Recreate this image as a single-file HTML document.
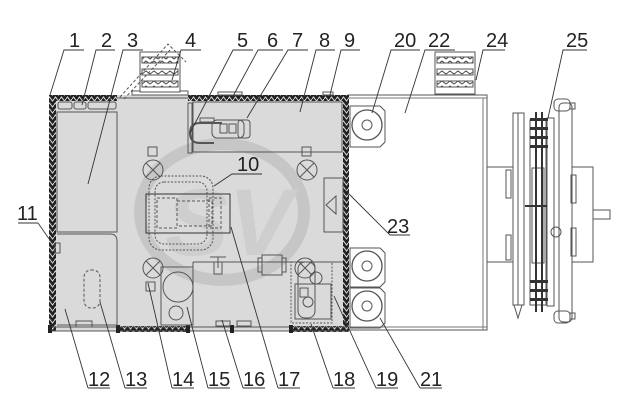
<!DOCTYPE html>
<html><head><meta charset="utf-8"><style>
html,body{margin:0;padding:0;background:#fff;}
svg{display:block;}
text{font-family:"Liberation Sans",sans-serif;font-size:20px;fill:#222;}
</style></head><body>
<svg width="630" height="420" viewBox="0 0 630 420" xmlns="http://www.w3.org/2000/svg">
<defs>
<pattern id="h" width="6" height="6" patternUnits="userSpaceOnUse">
<rect width="6" height="6" fill="#222"/>
<path d="M0 3 L1.5 1 L3 3 L4.5 5 L6 3" stroke="#ddd" stroke-width="1" fill="none"/>
</pattern>
<pattern id="vh" width="8" height="5" patternUnits="userSpaceOnUse">
<rect width="8" height="5" fill="#fff"/>
<path d="M0 2.5 L2 1 L4 2.5 L6 4 L8 2.5" stroke="#444" stroke-width="1" fill="none"/>
</pattern>
</defs>

<rect x="348" y="95" width="139" height="235" fill="#fff" stroke="#555" stroke-width="1"/>
<line x1="483" y1="98" x2="483" y2="330" stroke="#777"/>
<line x1="348" y1="98" x2="487" y2="98" stroke="#777"/>
<line x1="348" y1="327" x2="487" y2="327" stroke="#777"/>

<rect x="49" y="95" width="300" height="236" fill="#dadada"/>
<ellipse cx="222" cy="212" rx="82" ry="68" fill="none" stroke="#c6c6c6" stroke-width="12"/>
<text x="165" y="255" style="font-size:95px;font-style:italic;font-weight:bold;fill:#cecece">SV</text>

<rect x="49" y="95" width="68" height="6" fill="url(#h)"/>
<rect x="188" y="95" width="161" height="6" fill="url(#h)"/>
<line x1="117" y1="98" x2="188" y2="98" stroke="#555"/>
<rect x="49" y="95" width="7" height="236" fill="url(#h)"/>
<rect x="343" y="95" width="6" height="236" fill="url(#h)"/>
<rect x="117" y="326" width="72" height="6" fill="url(#h)"/>
<rect x="290" y="326" width="59" height="6" fill="url(#h)"/>
<line x1="49" y1="327" x2="349" y2="327" stroke="#555"/>
<line x1="49" y1="331" x2="349" y2="331" stroke="#555"/>
<rect x="116" y="325" width="4" height="8" fill="#222"/><rect x="186" y="325" width="4" height="8" fill="#222"/>
<rect x="230" y="325" width="4" height="8" fill="#222"/><rect x="289" y="325" width="4" height="8" fill="#222"/>
<rect x="48" y="325" width="4" height="8" fill="#222"/>

<g fill="none" stroke="#555" stroke-width="1">
<rect x="132" y="91" width="56" height="4"/>
<rect x="140" y="52" width="40" height="40" fill="#fff"/>
<rect x="142" y="57" width="36" height="6" fill="url(#vh)"/>
<rect x="142" y="69" width="36" height="6" fill="url(#vh)"/>
<rect x="142" y="81" width="36" height="6" fill="url(#vh)"/>
<path d="M120 97 L168 44 L186 62" stroke-dasharray="3,2"/>
<path d="M124 99 L170 50" stroke-dasharray="3,2"/>
<rect x="435" y="52" width="40" height="42" fill="#fff"/>
<rect x="437" y="57" width="36" height="6" fill="url(#vh)"/>
<rect x="437" y="69" width="36" height="6" fill="url(#vh)"/>
<rect x="437" y="81" width="36" height="6" fill="url(#vh)"/>
<rect x="218" y="92" width="24" height="3"/>
<rect x="323" y="92" width="10" height="3"/>

<rect x="58" y="102" width="14" height="7" rx="2"/><rect x="74" y="102" width="12" height="7" rx="2"/><rect x="88" y="102" width="28" height="7" rx="2"/>
<rect x="57" y="112" width="60" height="120"/>
<path d="M57 234 H110 Q117 234 117 241 V325 H57"/>
<rect x="84" y="270" width="16" height="38" rx="7" stroke-dasharray="3,2"/>
<rect x="76" y="321" width="16" height="6"/>
<rect x="55" y="243" width="5" height="10"/>

<rect x="193" y="102" width="149" height="50"/>
<rect x="188" y="103" width="4" height="50"/>
<path d="M222 123 H200 Q190 123 190 133 Q190 143 200 143 H214" stroke-width="2"/>
<rect x="212" y="120" width="32" height="18" rx="5"/><rect x="220" y="124" width="7" height="9"/><rect x="229" y="124" width="7" height="9"/>
<rect x="238" y="120" width="12" height="18" rx="3"/><rect x="200" y="118" width="14" height="4"/>

<circle cx="153" cy="170" r="10"/><path d="M146 163 L160 177 M160 163 L146 177"/>
<circle cx="307" cy="170" r="10"/><path d="M300 163 L314 177 M314 163 L300 177"/>
<circle cx="153" cy="268" r="10"/><path d="M146 261 L160 275 M160 261 L146 275"/>
<circle cx="305" cy="268" r="10"/><path d="M298 261 L312 275 M312 261 L298 275"/>
<rect x="148" y="147" width="9" height="9"/><rect x="302" y="147" width="9" height="9"/><rect x="146" y="282" width="9" height="9"/><rect x="300" y="288" width="8" height="9"/>

<rect x="149" y="176" width="64" height="74" rx="12" stroke-dasharray="2,1.5"/>
<rect x="155" y="182" width="52" height="62" rx="9" stroke-dasharray="2,1.5"/>
<rect x="146" y="194" width="84" height="39" stroke="#333"/>
<rect x="157" y="198" width="20" height="30" stroke-dasharray="3,2"/>
<rect x="177" y="201" width="35" height="25" stroke-dasharray="3,2"/>
<rect x="209" y="198" width="12" height="30" stroke-dasharray="3,2"/>

<rect x="324" y="178" width="19" height="54"/>
<path d="M326 205 L336 196 L336 214 Z"/>

<rect x="161" y="267" width="32" height="58"/>
<circle cx="178" cy="287" r="15"/><circle cx="176" cy="313" r="7"/>
<path d="M193 262 H343"/><path d="M193 262 V325"/>
<rect x="214" y="262" width="8" height="12"/><path d="M210 257 H226 M218 257 V268"/>
<rect x="262" y="255" width="20" height="20"/><rect x="258" y="258" width="4" height="14"/><rect x="282" y="258" width="4" height="14"/>
<rect x="216" y="321" width="14" height="5"/><rect x="237" y="321" width="14" height="5"/>
<rect x="291" y="262" width="41" height="61" stroke-dasharray="2,1.5"/>
<rect x="298" y="262" width="17" height="56" rx="7"/>
<rect x="295" y="284" width="36" height="35"/>
<circle cx="316" cy="278" r="6"/><circle cx="308" cy="302" r="5"/>

<path d="M350 106 H380 L385 111 V142 L380 147 H350 Z"/>
<circle cx="367" cy="125" r="15" stroke-width="1.3"/><circle cx="367" cy="125" r="5"/>
<path d="M350 248 H380 L385 253 V282 L380 287 H350 Z"/>
<circle cx="367" cy="266" r="15" stroke-width="1.3"/><circle cx="367" cy="266" r="5"/>
<path d="M350 288 H380 L385 293 V323 L380 328 H350 Z"/>
<circle cx="367" cy="306" r="15" stroke-width="1.3"/><circle cx="367" cy="306" r="5"/>

<rect x="487" y="167" width="26" height="95"/><rect x="506" y="170" width="5" height="28"/><rect x="506" y="235" width="5" height="25"/>
<rect x="572" y="167" width="21" height="95"/><rect x="571" y="175" width="5" height="28"/><rect x="571" y="228" width="5" height="28"/>
<rect x="593" y="210" width="17" height="9"/>
<rect x="513" y="113" width="11" height="192"/><line x1="518" y1="113" x2="518" y2="305"/>
<path d="M514 305 L518 318 L522 305"/>
<rect x="530" y="120" width="16" height="185"/>
<rect x="532" y="168" width="12" height="95"/>
<rect x="547" y="118" width="7" height="188"/>
<rect x="559" y="103" width="13" height="219" rx="4"/>
<rect x="554" y="99" width="16" height="12" rx="4"/><rect x="554" y="311" width="16" height="12" rx="4"/>
<rect x="570" y="103" width="5" height="6"/><rect x="570" y="313" width="5" height="6"/>
<circle cx="556" cy="232" r="5"/>
</g>
<g fill="#333">
<rect x="530" y="118" width="18" height="3"/><rect x="530" y="127" width="18" height="3"/><rect x="530" y="136" width="18" height="3"/><rect x="530" y="145" width="18" height="3"/>
<rect x="530" y="280" width="18" height="3"/><rect x="530" y="289" width="18" height="3"/><rect x="530" y="298" width="18" height="3"/>
<rect x="535" y="112" width="2" height="200"/><rect x="541" y="112" width="2" height="200"/>
<rect x="525" y="205" width="22" height="2"/>
</g>

<g fill="none" stroke="#333" stroke-width="0.9">
<path d="M84 50 H64 L50 95"/>
<path d="M115 50 H96 L82 105"/>
<path d="M143 50 H123 L88 184"/>
<path d="M201 50 H181 L172 80"/>
<path d="M253 50 H233 L190 133"/>
<path d="M283 50 H258 L232 98"/>
<path d="M308 50 H288 L247 118"/>
<path d="M335 50 H316 L300 112"/>
<path d="M360 50 H341 L330 95"/>
<path d="M420 50 H391 L372 113"/>
<path d="M455 50 H425 L405 113"/>
<path d="M505 50 H483 L476 80"/>
<path d="M587 50 H563 L548 118"/>
<path d="M38 223 H18 M38 223 L52 243"/>
<path d="M262 174 H232 L214 186"/>
<path d="M410 235 H390 L345 190"/>
<path d="M88 388 H110 M88 388 L65 309"/>
<path d="M125 388 H147 M125 388 L100 302"/>
<path d="M172 388 H194 M172 388 L148 283"/>
<path d="M208 388 H230 M208 388 L187 307"/>
<path d="M243 388 H265 M243 388 L222 320"/>
<path d="M278 388 H300 M278 388 L231 227"/>
<path d="M333 388 H355 M333 388 L311 324"/>
<path d="M376 388 H398 M376 388 L334 296"/>
<path d="M420 388 H442 M420 388 L380 318"/>
</g>
<g>
<text x="69" y="47">1</text>
<text x="101" y="47">2</text>
<text x="127" y="47">3</text>
<text x="185" y="47">4</text>
<text x="237" y="47">5</text>
<text x="267" y="47">6</text>
<text x="292" y="47">7</text>
<text x="319" y="47">8</text>
<text x="344" y="47">9</text>
<text x="394" y="47">20</text>
<text x="428" y="47">22</text>
<text x="486" y="47">24</text>
<text x="566" y="47">25</text>
<text x="17" y="220">11</text>
<text x="237" y="171">10</text>
<text x="387" y="233">23</text>
<text x="88" y="386">12</text>
<text x="125" y="386">13</text>
<text x="172" y="386">14</text>
<text x="208" y="386">15</text>
<text x="243" y="386">16</text>
<text x="278" y="386">17</text>
<text x="333" y="386">18</text>
<text x="376" y="386">19</text>
<text x="420" y="386">21</text>
</g>
</svg>
</body></html>
